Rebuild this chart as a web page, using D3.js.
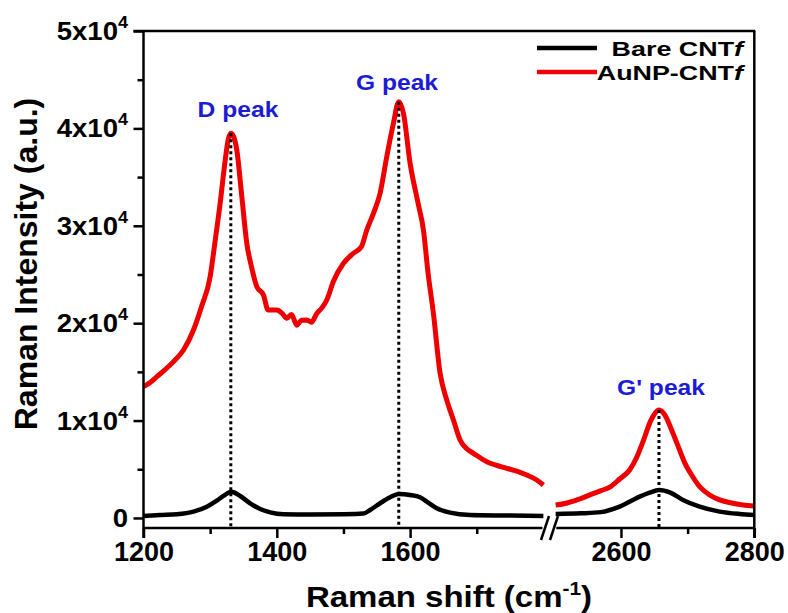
<!DOCTYPE html>
<html>
<head>
<meta charset="utf-8">
<script src="https://cdn.jsdelivr.net/npm/d3@7"></script>
<style>
  html, body { margin: 0; padding: 0; background: #fff; }
  svg { display: block; font-family: Arial, "Liberation Sans", sans-serif; }
</style>
</head>
<body>
<svg id="chart" width="788" height="613"></svg>
<script>
// AuNP-CNTf (red), low-wavenumber segment
const auShiftLeft = [1200, 1210, 1220, 1232, 1245, 1260, 1275, 1287, 1300, 1307, 1315, 1322, 1327, 1331, 1335, 1340, 1347, 1355, 1362, 1370, 1380, 1387, 1400, 1408, 1415, 1422, 1430, 1437, 1445, 1452, 1460, 1468, 1475, 1485, 1500, 1515, 1527, 1535, 1545, 1555, 1565, 1575, 1583, 1590, 1600, 1612, 1620, 1627, 1635, 1645, 1655, 1665, 1675, 1685, 1695, 1715, 1730, 1745, 1760, 1775, 1790, 1800];
const auIntLeft = [13480, 13900, 14500, 15200, 16050, 17250, 19300, 21690, 24770, 28200, 32310, 36420, 38810, 39500, 39200, 37780, 33340, 28200, 25800, 23750, 22900, 21350, 21350, 21000, 20500, 20900, 19800, 20300, 20330, 20100, 21000, 21600, 22380, 24300, 26150, 27180, 27860, 29570, 31280, 33340, 37100, 40520, 42740, 41550, 36420, 32310, 29570, 25120, 21000, 14860, 12110, 10060, 8010, 7100, 6640, 5780, 5400, 5100, 4800, 4410, 3900, 3390];
// AuNP-CNTf (red), G' segment
const auShiftRight = [2502, 2518, 2538, 2558, 2570, 2584, 2598, 2613, 2624, 2634, 2644, 2651, 2657, 2666, 2676, 2686, 2696, 2706, 2718, 2733, 2748, 2768, 2783, 2800];
const auIntRight = [1330, 1510, 1950, 2500, 2800, 3200, 4000, 4930, 6290, 8010, 9890, 10750, 11090, 10570, 9030, 7320, 5610, 4410, 3210, 2360, 1850, 1510, 1330, 1230];

// Bare CNTf (black)
const bareShiftLeft = [1200, 1225, 1250, 1275, 1295, 1310, 1320, 1332, 1345, 1360, 1375, 1390, 1410, 1450, 1500, 1530, 1540, 1555, 1570, 1583, 1600, 1615, 1625, 1640, 1660, 1690, 1750, 1800];
const bareIntLeft = [200, 300, 380, 650, 1160, 1780, 2260, 2700, 2260, 1510, 920, 580, 380, 350, 380, 450, 820, 1510, 2120, 2460, 2360, 2120, 1680, 1000, 550, 310, 250, 200];
const bareShiftRight = [2502, 2540, 2570, 2598, 2628, 2643, 2657, 2674, 2693, 2718, 2748, 2778, 2800];
const bareIntRight = [420, 480, 600, 1160, 2190, 2600, 2870, 2600, 1850, 1160, 650, 410, 310];

// peak markers
const peakNames = ["D peak", "G peak", "G' peak"];
const peakShift = [1331, 1583, 2657];
const peakTop = [39500, 42740, 11090];

// axes
const xMajorLeft = [1200, 1400, 1600];
const xMinorLeft = [1300, 1500, 1700];
const xMajorRight = [2600, 2800];
const xMinorRight = [2700];
const yMajor = [0, 10000, 20000, 30000, 40000, 50000];
const yMinor = [5000, 15000, 25000, 35000, 45000];

const seriesNames = ["Bare CNT", "AuNP-CNT"];
const seriesColors = ["#000000", "#ee0000"];

const svg = d3.select('#chart');

const pL = 143.5, pR = 754.3, pT = 31, pB = 528;
const breakL = 543.4, breakR = 554.3;

const xLeft = d3.scaleLinear().domain([1200, 1800]).range([pL, breakL]);
const xRight = d3.scaleLinear().domain([2500, 2800]).range([breakR, pR]);
const y = d3.scaleLinear().domain([-1030, 50000]).range([pB, pT]);

function stretched(g, x, yy, sx, anchor) {
  return g.append('text')
    .attr('transform', `translate(${x},${yy}) scale(${sx},1)`)
    .attr('text-anchor', anchor);
}

// curves
const zip = (xs, ys) => xs.map((d, i) => [d, ys[i]]);
function drawSeries(xs, ys, xScale, color, width) {
  svg.append('path')
    .datum(zip(xs, ys))
    .attr('fill', 'none')
    .attr('stroke', color)
    .attr('stroke-width', width)
    .attr('stroke-linejoin', 'round')
    .attr('d', d3.line().x(d => xScale(d[0])).y(d => y(d[1])).curve(d3.curveMonotoneX));
}
drawSeries(auShiftLeft, auIntLeft, xLeft, seriesColors[1], 5);
drawSeries(auShiftRight, auIntRight, xRight, seriesColors[1], 5);
drawSeries(bareShiftLeft, bareIntLeft, xLeft, seriesColors[0], 4.5);
drawSeries(bareShiftRight, bareIntRight, xRight, seriesColors[0], 4.5);

// dotted peak lines + labels
const labelPos = [[238, 117], [397, 90], [661, 395]];
peakShift.forEach((p, i) => {
  const xs = p > 2000 ? xRight : xLeft;
  svg.append('line')
    .attr('x1', xs(p)).attr('x2', xs(p))
    .attr('y1', y(peakTop[i])).attr('y2', pB)
    .attr('stroke', '#000').attr('stroke-width', 3)
    .attr('stroke-dasharray', '3,3');
  stretched(svg, labelPos[i][0], labelPos[i][1], 1.12, 'middle')
    .attr('font-size', 22).attr('font-weight', 'bold')
    .attr('fill', '#1c1cd4')
    .text(peakNames[i]);
});

// x axis ticks
function xTicks(scale, major, minor) {
  const gMaj = svg.append('g').attr('transform', `translate(0,${pB})`)
    .call(d3.axisBottom(scale).tickValues(major).tickSize(10).tickPadding(4).tickFormat(d3.format('d')));
  const gMin = svg.append('g').attr('transform', `translate(0,${pB})`)
    .call(d3.axisBottom(scale).tickValues(minor).tickSize(6).tickFormat(''));
  [gMaj, gMin].forEach(g => {
    g.select('.domain').remove();
    g.selectAll('line').attr('stroke', '#000').attr('stroke-width', 2.5);
  });
  gMaj.selectAll('text')
    .attr('font-size', 27).attr('font-weight', 'bold')
    .attr('font-family', 'Arial, "Liberation Sans", sans-serif')
    .attr('fill', '#000');
}
xTicks(xLeft, xMajorLeft, xMinorLeft);
xTicks(xRight, xMajorRight, xMinorRight);

// y axis ticks
const gy = svg.append('g').attr('transform', `translate(${pL},0)`)
  .call(d3.axisLeft(y).tickValues(yMajor).tickSize(10).tickFormat(''));
const gyMin = svg.append('g').attr('transform', `translate(${pL},0)`)
  .call(d3.axisLeft(y).tickValues(yMinor).tickSize(6).tickFormat(''));
[gy, gyMin].forEach(g => {
  g.select('.domain').remove();
  g.selectAll('line').attr('stroke', '#000').attr('stroke-width', 2.5);
});
yMajor.forEach(v => {
  const t = stretched(svg, 128, y(v) + 9, 1.06, 'end')
    .attr('font-size', 26).attr('font-weight', 'bold');
  if (v === 0) { t.text('0'); return; }
  t.append('tspan').text(`${v / 10000}x10`);
  t.append('tspan').attr('font-size', 17).attr('dy', -12).text('4');
});

// frame + broken x axis
const frame = svg.append('g').attr('stroke', '#000').attr('stroke-width', 2.5).attr('fill', 'none');
frame.append('line').attr('x1', pL).attr('x2', pL).attr('y1', pT - 1).attr('y2', pB + 10);
frame.append('line').attr('x1', pL - 10).attr('x2', pR + 1).attr('y1', pT).attr('y2', pT);
frame.append('line').attr('x1', pR).attr('x2', pR).attr('y1', pT).attr('y2', pB + 10);
frame.append('line').attr('x1', pL).attr('x2', breakL - 1).attr('y1', pB).attr('y2', pB);
frame.append('line').attr('x1', breakR + 2).attr('x2', pR).attr('y1', pB).attr('y2', pB);
[545, 554].forEach(cx => {
  frame.append('line')
    .attr('x1', cx - 4).attr('y1', pB + 12)
    .attr('x2', cx + 4).attr('y2', pB - 12);
});

// axis titles
const xt = stretched(svg, 449, 607, 1.1, 'middle')
  .attr('font-size', 30).attr('font-weight', 'bold');
xt.append('tspan').text('Raman shift (cm');
xt.append('tspan').attr('font-size', 19).attr('dy', -12).text('-1');
xt.append('tspan').attr('dy', 12).text(')');

svg.append('text')
  .attr('transform', 'translate(37,264) rotate(-90)')
  .attr('text-anchor', 'middle')
  .attr('font-size', 32).attr('font-weight', 'bold')
  .text('Raman Intensity (a.u.)');

// legend
const legY = [48, 72];
seriesNames.forEach((name, i) => {
  svg.append('line')
    .attr('x1', 537).attr('x2', 597)
    .attr('y1', legY[i]).attr('y2', legY[i])
    .attr('stroke', seriesColors[i]).attr('stroke-width', 4.5);
  const t = stretched(svg, 743, legY[i] + 8, 1.28, 'end')
    .attr('font-size', 21).attr('font-weight', 'bold');
  t.append('tspan').text(name);
  t.append('tspan').attr('font-style', 'italic').text('f');
});
</script>
</body>
</html>
